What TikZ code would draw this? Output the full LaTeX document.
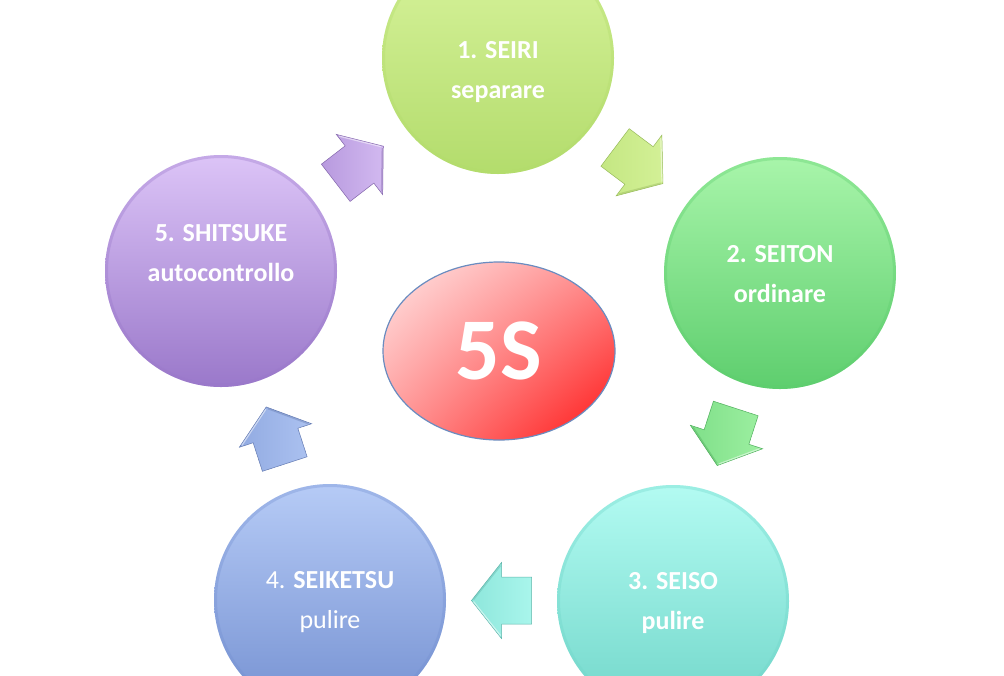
\documentclass[tikz,border=0pt]{standalone}
\usepackage{fontspec}
\setmainfont{Carlito}
\usetikzlibrary{calc,shapes.geometric,shadings}
\definecolor{gA}{HTML}{D9F49E}\definecolor{gAd}{HTML}{B3DC6C}
\definecolor{gB}{HTML}{A8F5AA}\definecolor{gBd}{HTML}{5ECE6E}
\definecolor{gC}{HTML}{B3FBF2}\definecolor{gCd}{HTML}{70D6C9}
\definecolor{gD}{HTML}{B6CBF6}\definecolor{gDd}{HTML}{7490D1}
\definecolor{gE}{HTML}{DCC4F7}\definecolor{gEd}{HTML}{9A78CA}
\definecolor{rimblue}{HTML}{6A8CC0}
\definecolor{rUL}{HTML}{FFE6E6}\definecolor{rUR}{HTML}{FF8C8C}
\definecolor{rLL}{HTML}{FF9696}\definecolor{rLR}{HTML}{FF1414}
\tikzset{
  ball/.style={circle, minimum size=232pt, inner sep=0pt},
  lbl/.style={text=white, align=center, font=\fontsize{26}{40}\selectfont},
}
\newcommand\blockarr[4]{%
  \begin{scope}[shift={(#1)}, rotate=#2]
    \shade[left color=#3!45!#4, right color=#3!85!#4, draw=#4!85!black, line width=0.5pt, line join=miter]
      (30,0) -- (0,38) -- (0,23.5) -- (-30,23.5) -- (-30,-23.5) -- (0,-23.5) -- (0,-38) -- cycle;
    \draw[white, opacity=0.5, line width=1.2pt] (1,-35) -- (28,-1);
    \draw[#4!80!black, opacity=0.35, line width=1.5pt] (1,35) -- (28,1);
  \end{scope}}
\newcommand\rimring[2]{\draw[#2, opacity=0.35, line width=3pt] (#1) circle (114.5pt);}
\begin{document}
\begin{tikzpicture}[x=1pt, y=-1pt]
  \useasboundingbox (0,0) rectangle (1004,675);
  \clip (0,0) rectangle (1004,675);
  \fill[white] (0,0) rectangle (1004,675);
  % circles
  \node[ball, top color=gA, bottom color=gAd] (c1) at (498,58) {};
  \node[ball, top color=gB, bottom color=gBd] (c2) at (780,273) {};
  \node[ball, top color=gC, bottom color=gCd] (c3) at (673,601) {};
  \node[ball, top color=gD, bottom color=gDd] (c4) at (330,600) {};
  \node[ball, top color=gE, bottom color=gEd] (c5) at (221,271) {};
  \rimring{c1}{gAd}\rimring{c2}{gBd}\rimring{c3}{gCd}\rimring{c4}{gDd}\rimring{c5}{gEd}
  % labels
  \node[lbl] (t1) at (498,72) {\textbf{1. SEIRI}\\\textbf{separare}};
  \node[lbl] (t2) at (780,274) {\textbf{2. SEITON}\\\textbf{ordinare}};
  \node[lbl] (t3) at (673,603) {\textbf{3. SEISO}\\\textbf{pulire}};
  \node[lbl] (t4) at (330,602) {4. \textbf{SEIKETSU}\\pulire};
  \node[lbl] (t5) at (221,253) {\textbf{5. SHITSUKE}\\\textbf{autocontrollo}};
  % centre
  \node[ellipse, minimum width=232pt, minimum height=178pt, inner sep=0pt,
        upper left=rUL, upper right=rUR, lower left=rLL, lower right=rLR,
        draw=rimblue, line width=1.2pt, text=white, font=\fontsize{88}{88}\selectfont\bfseries]
        (s5) at (499,351) {5S};
  % arrow anchors
  \coordinate (m12) at ($(c1)!0.5!(c2)$);
  \coordinate (m23) at ($(c2)!0.5!(c3)$);
  \coordinate (m34) at ($(c3)!0.5!(c4)$);
  \coordinate (m45) at ($(c4)!0.5!(c5)$);
  \coordinate (m51) at ($(c5)!0.5!(c1)$);
  \blockarr{m12}{-37}{gA}{gAd}
  \blockarr{m23}{-108}{gB}{gBd}
  \blockarr{m34}{180}{gC}{gCd}
  \blockarr{m45}{108}{gD}{gDd}
  \blockarr{m51}{37.6}{gE}{gEd}
\end{tikzpicture}
\end{document}
